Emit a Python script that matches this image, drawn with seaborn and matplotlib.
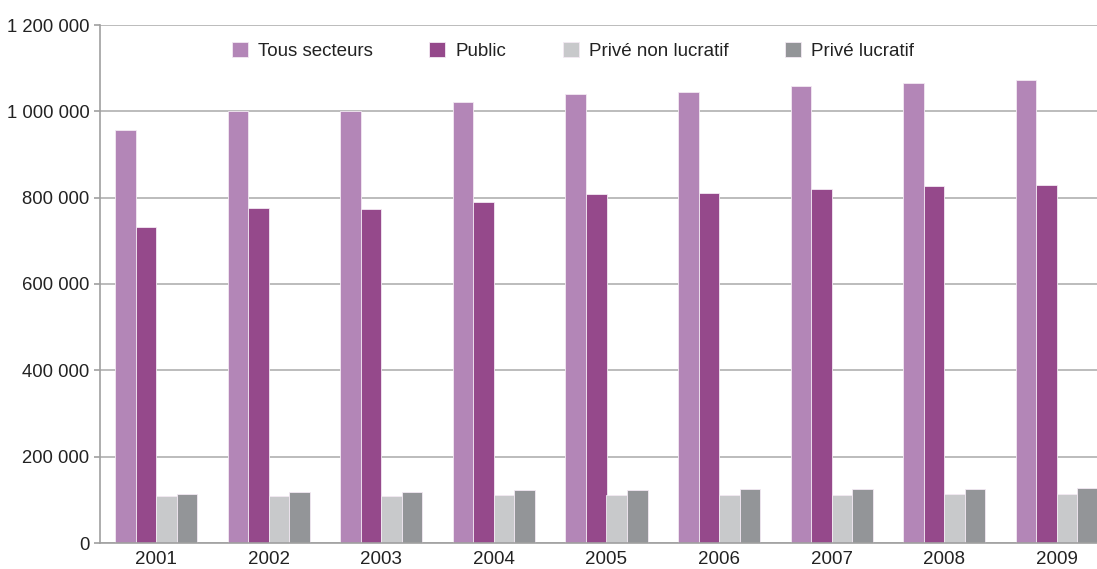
import pandas as pd
import matplotlib.pyplot as plt
import seaborn as sns
from matplotlib.ticker import FuncFormatter, FixedLocator

# données
annees = ["2001", "2002", "2003", "2004", "2005", "2006", "2007", "2008", "2009"]
tous_secteurs = [956000, 1001000, 1001000, 1022000, 1040000, 1045000, 1058000, 1065000, 1073000]
public = [731000, 776000, 773000, 791000, 808000, 810000, 819000, 826000, 829000]
prive_non_lucratif = [110000, 110000, 110000, 112000, 112000, 112000, 112000, 114500, 114500]
prive_lucratif = [114500, 117500, 117500, 122000, 122000, 124500, 124500, 124500, 127500]

secteurs = ["Tous secteurs", "Public", "Privé non lucratif", "Privé lucratif"]
couleurs = ["#B386B7", "#95498B", "#C8C9CB", "#939598"]

df = pd.DataFrame({
    "annee": annees * 4,
    "secteur": [s for s in secteurs for _ in annees],
    "valeur": tous_secteurs + public + prive_non_lucratif + prive_lucratif,
})

sns.set_style("white")
plt.rcParams['font.family'] = ['Liberation Sans', 'DejaVu Sans']

fig = plt.figure(figsize=(10.97, 5.69), dpi=100)
ax = fig.add_axes([100 / 1097, 1 - 543 / 569, 1013 / 1097, 518 / 569])

sns.barplot(data=df, x="annee", y="valeur", hue="secteur", palette=couleurs,
            saturation=1, width=0.73, edgecolor="#f3e9f3", linewidth=0.6, ax=ax)

ax.set_ylim(0, 1200000)
ax.set_xlim(-0.5, 8.5)
ax.set_yticks(range(0, 1200001, 200000))
ax.yaxis.set_major_formatter(FuncFormatter(lambda v, p: f"{int(v):,}".replace(",", " ")))
ax.grid(axis="y", color="#b0b0b0", linewidth=1.2)
ax.set_axisbelow(True)

# tirets de séparation entre années
ax.xaxis.set_minor_locator(FixedLocator([i - 0.5 for i in range(10)]))
ax.tick_params(axis="x", which="major", length=0, labelsize=13.5, pad=6, labelcolor="#222222")
ax.tick_params(axis="x", which="minor", length=5, color="#a0a0a0", width=1.2)
ax.tick_params(axis="y", length=4, color="#a0a0a0", width=1.2, labelsize=13.3, left=True,
               labelcolor="#222222")

for s in ["top", "right"]:
    ax.spines[s].set_visible(False)
for s in ["left", "bottom"]:
    ax.spines[s].set_color("#a0a0a0")
    ax.spines[s].set_linewidth(1.2)

ax.set_xlabel("")
ax.set_ylabel("")
leg = ax.legend(loc="center", bbox_to_anchor=(573 / 1097, 1 - 51 / 569), bbox_transform=fig.transFigure,
                ncol=4, frameon=False, fontsize=13.5, handlelength=0.85, handleheight=0.8,
                handletextpad=0.55, columnspacing=3.0)
for t in leg.get_texts():
    t.set_color("#222222")

plt.savefig("out.png", dpi=100)
